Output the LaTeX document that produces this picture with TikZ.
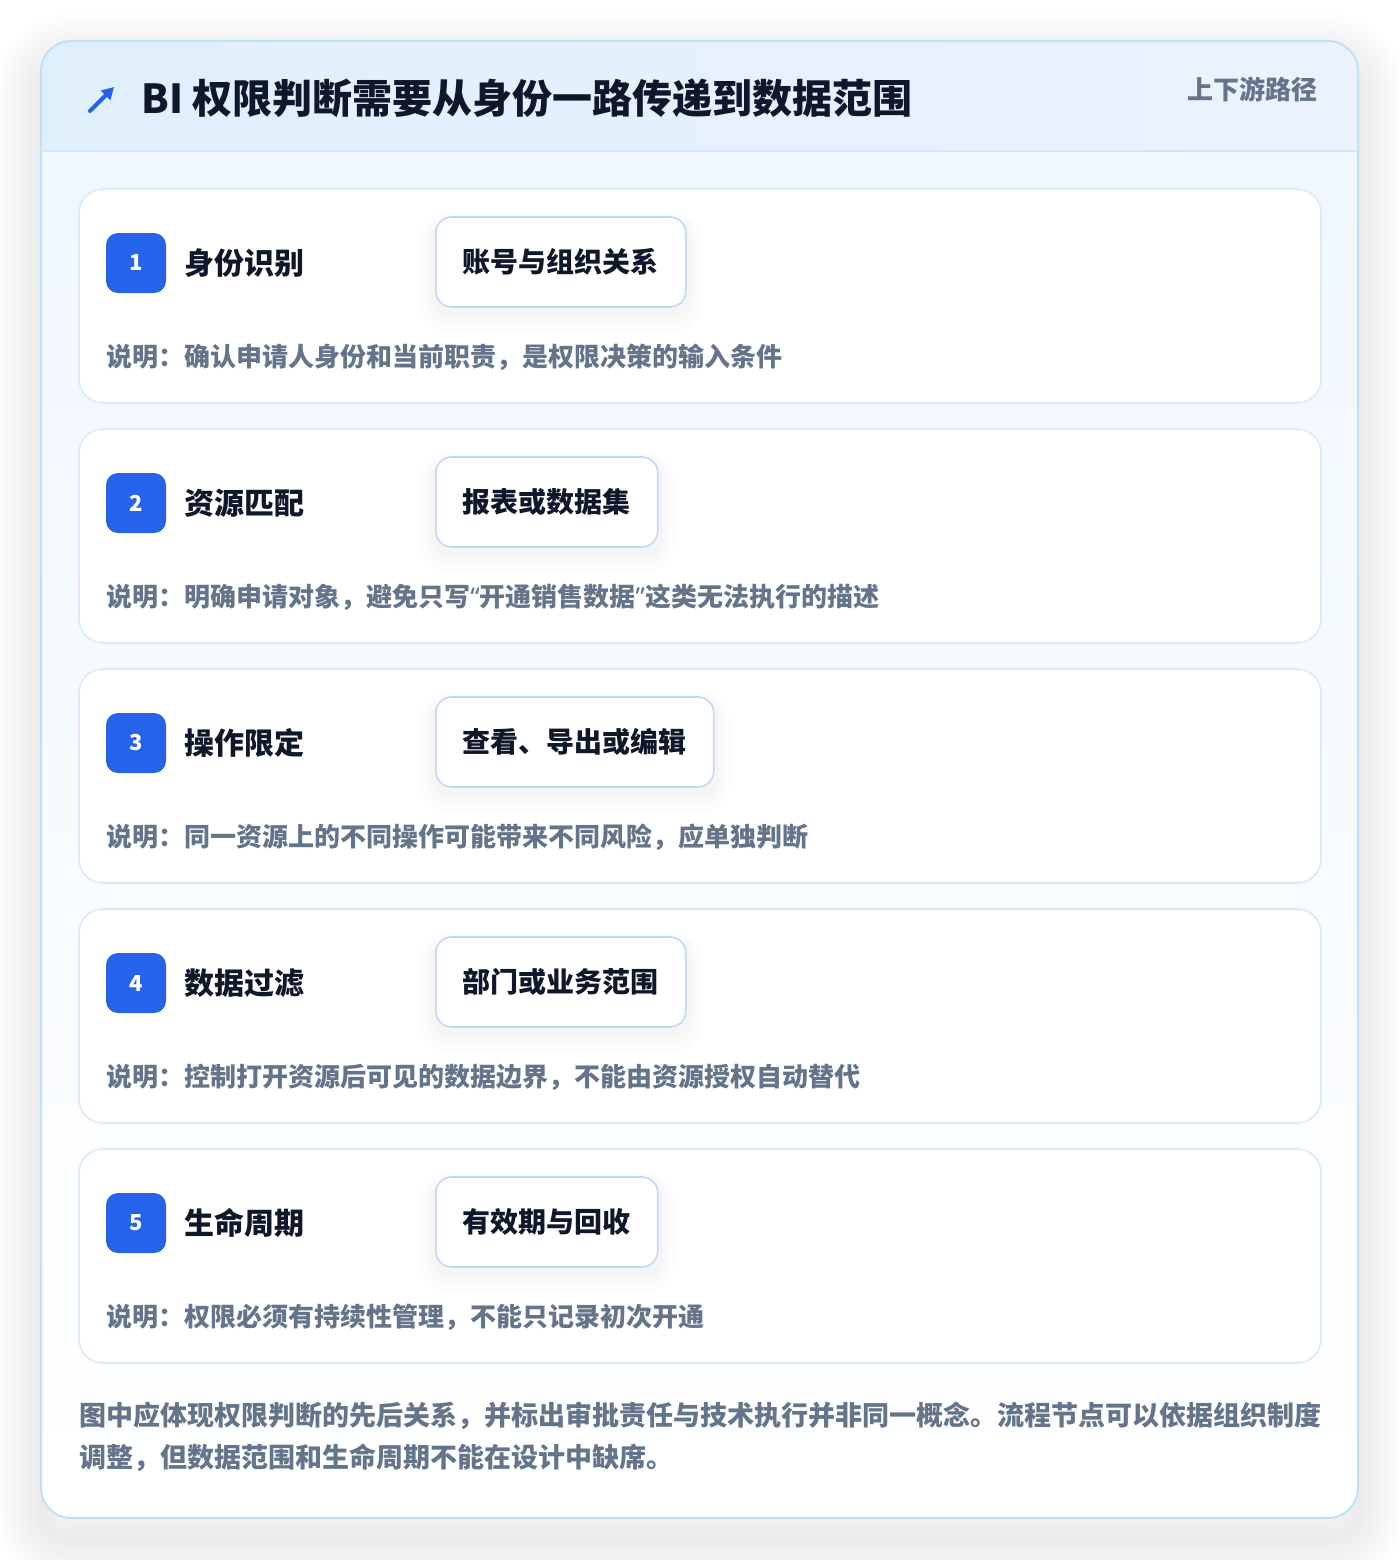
\documentclass[tikz,border=0pt]{standalone}
\usepackage{fontspec}
\setmainfont{Noto Sans CJK SC}
\newfontfamily\quotefont{Noto Sans}
\usetikzlibrary{arrows.meta}

\definecolor{stepblue}{HTML}{2563EB}
\definecolor{ink}{HTML}{0F172A}
\definecolor{slate}{HTML}{64748B}
\definecolor{outerline}{HTML}{BFE1F6}
\definecolor{cardline}{HTML}{DCEAFB}
\definecolor{tagline}{HTML}{BFD8F5}
\definecolor{headleft}{HTML}{E0EFFC}
\definecolor{headright}{HTML}{EBF2FE}
\definecolor{headline}{HTML}{D3E6F8}
\definecolor{bodytop}{HTML}{F0F7FE}

\newcommand{\openq}{{\quotefont\bfseries “}}
\newcommand{\closeq}{{\quotefont\bfseries ”}}

\tikzset{
  card/.style={rectangle, rounded corners=12pt, draw=cardline, line width=0.8pt, fill=white,
    minimum width=621pt, minimum height=107pt, inner sep=0pt},
  badge/.style={rectangle, rounded corners=6pt, fill=stepblue, text=white, minimum size=30pt,
    inner sep=0pt, font=\fontsize{11pt}{13pt}\selectfont\bfseries},
  steptitle/.style={anchor=west, inner sep=0pt, text=ink, font=\fontsize{15pt}{18pt}\selectfont\bfseries},
  tagbox/.style={anchor=west, rectangle, rounded corners=8pt, draw=tagline, line width=0.8pt, fill=white,
    minimum height=45pt, inner xsep=13.5pt, text=ink, font=\fontsize{14pt}{17pt}\selectfont\bfseries,
    preaction={draw=black, opacity=0.01, line width=16pt, transform canvas={yshift=-5pt}},
    preaction={draw=black, opacity=0.012, line width=10pt, transform canvas={yshift=-4pt}},
    preaction={draw=black, opacity=0.014, line width=5pt, transform canvas={yshift=-3pt}}},
  notetext/.style={anchor=west, inner sep=0pt, text=slate, font=\fontsize{13pt}{16pt}\selectfont\bfseries}
}

\begin{document}
\begin{tikzpicture}[x=0.5pt,y=-0.5pt]
\useasboundingbox (0,0) rectangle (1400,1560);
\fill[white] (0,0) rectangle (1400,1560);

% soft shadow of the outer panel
\foreach \k in {1,...,20}
  \draw[black, opacity=0.0055, line width=\k*2.4pt, rounded corners=15pt] (41,61) rectangle (1358,1538);

% outer panel
\begin{scope}
  \clip[rounded corners=15pt] (41,41) rectangle (1358,1518);
  \shade[top color=bodytop, bottom color=white] (41,151) rectangle (1358,1518);
  \shade[left color=headleft, right color=headright] (41,41) rectangle (1358,151);
\end{scope}
\draw[headline, line width=0.8pt] (41,151) -- (1358,151);
\draw[rounded corners=15pt, outerline, line width=1pt] (41,41) rectangle (1358,1518);

% header
\coordinate (icontail) at (90,111);
\coordinate (iconhead) at (114,87);
\draw[stepblue, line width=2pt, line cap=round, -{Triangle[length=6pt,width=6.5pt]}] (icontail) -- (iconhead);
\node[anchor=west, inner sep=0pt, text=ink, font=\fontsize{20pt}{24pt}\selectfont\bfseries] (title) at (141,98)
  {BI 权限判断需要从身份一路传递到数据范围};
\node[anchor=east, inner sep=0pt, text=slate, font=\fontsize{13pt}{16pt}\selectfont\bfseries] (route) at (1318,89)
  {上下游路径};

% steps
\foreach \i/\name/\tag/\note in {
  1/身份识别/账号与组织关系/{确认申请人身份和当前职责，是权限决策的输入条件},
  2/资源匹配/报表或数据集/{明确申请对象，避免只写\openq 开通销售数据\closeq 这类无法执行的描述},
  3/操作限定/查看、导出或编辑/{同一资源上的不同操作可能带来不同风险，应单独判断},
  4/数据过滤/部门或业务范围/{控制打开资源后可见的数据边界，不能由资源授权自动替代},
  5/生命周期/有效期与回收/{权限必须有持续性管理，不能只记录初次开通}}{
  \pgfmathsetmacro\dy{240*(\i-1)}
  \node[card] (card\i) at (700,{296+\dy}) {};
  \node[badge] (badge\i) at (136,{263+\dy}) {\i};
  \node[steptitle] (name\i) at (184,{263+\dy}) {\name};
  \node[tagbox] (tag\i) at (435,{262+\dy}) {\tag};
  \node[notetext] (note\i) at (106,{357+\dy}) {说明：\note};
}

% summary
\node[anchor=base west, align=left, inner sep=0pt, text=slate, font=\fontsize{13.5pt}{21pt}\selectfont\bfseries] (summary) at (79,1467)
  {图中应体现权限判断的先后关系，并标出审批责任与技术执行并非同一概念。流程节点可以依据组织制度\\调整，但数据范围和生命周期不能在设计中缺席。};
\end{tikzpicture}
\end{document}
